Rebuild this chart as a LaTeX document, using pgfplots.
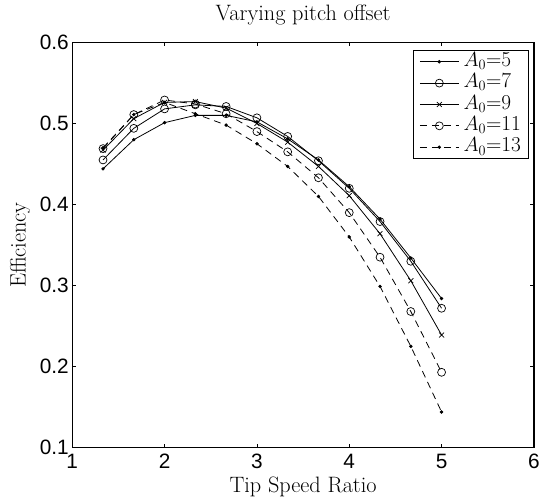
\documentclass[border=0pt]{standalone}
\usepackage{fontspec}
\usepackage{pgfplots}
\pgfplotsset{compat=1.18}
\newfontfamily\ticksf{Liberation Sans}
\newcommand{\lbl}{\fontsize{22.5}{22.5}\selectfont}

\begin{document}
\begin{tikzpicture}
\begin{axis}[
    name=ax,
    scale only axis,
    width=464.6bp, height=407.8bp,
    xmin=1, xmax=6, ymin=0.1, ymax=0.6,
    xtick={1,2,3,4,5,6},
    ytick={0.1,0.2,0.3,0.4,0.5,0.6},
    yticklabel style={/pgf/number format/.cd,fixed,fixed zerofill,precision=1},
    xticklabel style={yshift=-3bp},
    /pgf/number format/assume math mode=true,
    tick label style={font=\ticksf\fontsize{21}{21}\selectfont},
    tick align=inside,
    major tick length=4bp,
    tick style={black, line width=0.7bp},
    axis line style={line width=1.2bp},
    title={Varying pitch offset},
    title style={font=\lbl, at={(axis description cs:0.5,1)}, anchor=base, yshift=16bp},
    xlabel={Tip Speed Ratio},
    xlabel style={font=\lbl, at={(axis description cs:0.5,0)}, anchor=base, yshift=-45bp},
    ylabel={Efficiency},
    ylabel style={font=\lbl, at={(axis description cs:0,0.5)}, anchor=base, yshift=47bp},
    legend style={at={(axis description cs:1,1)}, anchor=north east,
        xshift=-5.6bp, yshift=-7.3bp,
        font=\fontsize{21.5}{21.5}\selectfont, draw=black, line width=0.8bp,
        inner xsep=4.5bp, inner ysep=1bp,
        nodes={inner xsep=2.5bp, inner ysep=1bp, text height=14.5bp, text depth=5bp}},
    legend cell align=left,
    legend image code/.code={%
        \path (-1.5bp,0bp) (41bp,0bp);
        \draw[mark repeat=2,mark phase=2,#1] plot coordinates {(0bp,0bp) (19.5bp,0bp) (39bp,0bp)};},
    every axis plot/.append style={black, line width=0.8bp},
]
\addplot[solid, mark=*, mark size=1.3bp] coordinates {
(1.3333,0.444) (1.6667,0.480) (2,0.501) (2.3333,0.510) (2.6667,0.510) (3,0.502)
(3.3333,0.481) (3.6667,0.455) (4,0.422) (4.3333,0.382) (4.6667,0.334) (5,0.284)};
\addplot[solid, mark=o, mark size=4bp, mark options={line width=0.7bp}] coordinates {
(1.3333,0.455) (1.6667,0.494) (2,0.518) (2.3333,0.523) (2.6667,0.521) (3,0.507)
(3.3333,0.484) (3.6667,0.454) (4,0.420) (4.3333,0.379) (4.6667,0.330) (5,0.272)};
\addplot[solid, mark=x, mark size=3.5bp, mark options={line width=0.7bp}] coordinates {
(1.3333,0.467) (1.6667,0.506) (2,0.526) (2.3333,0.527) (2.6667,0.519) (3,0.500)
(3.3333,0.477) (3.6667,0.447) (4,0.411) (4.3333,0.364) (4.6667,0.306) (5,0.239)};
\addplot[dash pattern=on 7bp off 5bp, mark=o, mark size=4bp, mark options={solid, line width=0.7bp}] coordinates {
(1.3333,0.469) (1.6667,0.511) (2,0.529) (2.3333,0.524) (2.6667,0.512) (3,0.490)
(3.3333,0.465) (3.6667,0.433) (4,0.390) (4.3333,0.335) (4.6667,0.268) (5,0.193)};
\addplot[dash pattern=on 7bp off 5bp, mark=*, mark size=1.3bp, mark options={solid}] coordinates {
(1.3333,0.470) (1.6667,0.511) (2,0.526) (2.3333,0.512) (2.6667,0.498) (3,0.475)
(3.3333,0.447) (3.6667,0.410) (4,0.360) (4.3333,0.299) (4.6667,0.225) (5,0.144)};
\legend{$A_0$=5,$A_0$=7,$A_0$=9,$A_0$=11,$A_0$=13}
\end{axis}
\path (ax.south west) ++(-72.7bp,-52.5bp);
\path (ax.north east) ++(5.7bp,42.7bp);
\end{tikzpicture}
\end{document}
